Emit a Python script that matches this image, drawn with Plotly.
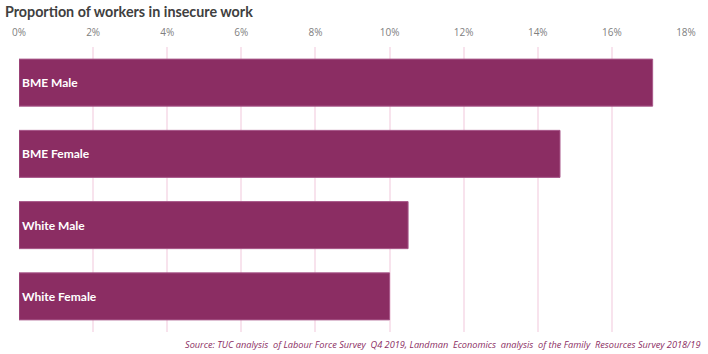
import plotly.graph_objects as go

categories = ["BME Male", "BME Female", "White Male", "White Female"]
values = [17.1, 14.6, 10.5, 10.0]
tick_vals = [0, 2, 4, 6, 8, 10, 12, 14, 16, 18]
tick_text = ["0%", "2%", "4%", "6%", "8%", "10%", "12%", "14%", "16%", "18%"]

fig = go.Figure()
fig.add_trace(go.Bar(
    y=categories, x=values, orientation="h",
    marker=dict(color="#8B2D63", line=dict(color="#A8588A", width=1)),
    text=categories, textposition="inside", insidetextanchor="start",
    textfont=dict(family="Lato", size=12, color="white", weight="bold"),
    hoverinfo="skip", width=0.66,
))

fig.update_layout(
    width=708, height=354,
    margin=dict(l=16, r=19, t=47, b=22),
    paper_bgcolor="white", plot_bgcolor="white",
    showlegend=False,
    title=dict(text="<b>Proportion of workers in insecure work</b>",
               x=0.007, xanchor="left", y=0.965, yanchor="middle",
               font=dict(family="Lato", size=14.3, color="#404040")),
    xaxis=dict(range=[0, 18], side="top", tickvals=tick_vals, ticktext=tick_text,
               showgrid=True, gridcolor="#F8E3ED", gridwidth=1.5,
               zeroline=False, showline=False, ticks="",
               ticklabelstandoff=8,
               tickfont=dict(family="Open Sans", size=10, color="#808080")),
    yaxis=dict(autorange="reversed", showticklabels=False, showgrid=False,
               zeroline=False, showline=False),
    annotations=[dict(
        text="<i>Source: TUC analysis  of Labour Force Survey  Q4 2019, Landman  Economics  analysis  of the Family  Resources Survey 2018/19</i>",
        xref="paper", yref="paper", x=1.0, y=0, xanchor="right", yanchor="top",
        xshift=16, yshift=-4, showarrow=False,
        font=dict(family="Open Sans", size=9.2, color="#8B2D63"))],
)

fig.write_html("out.html")
